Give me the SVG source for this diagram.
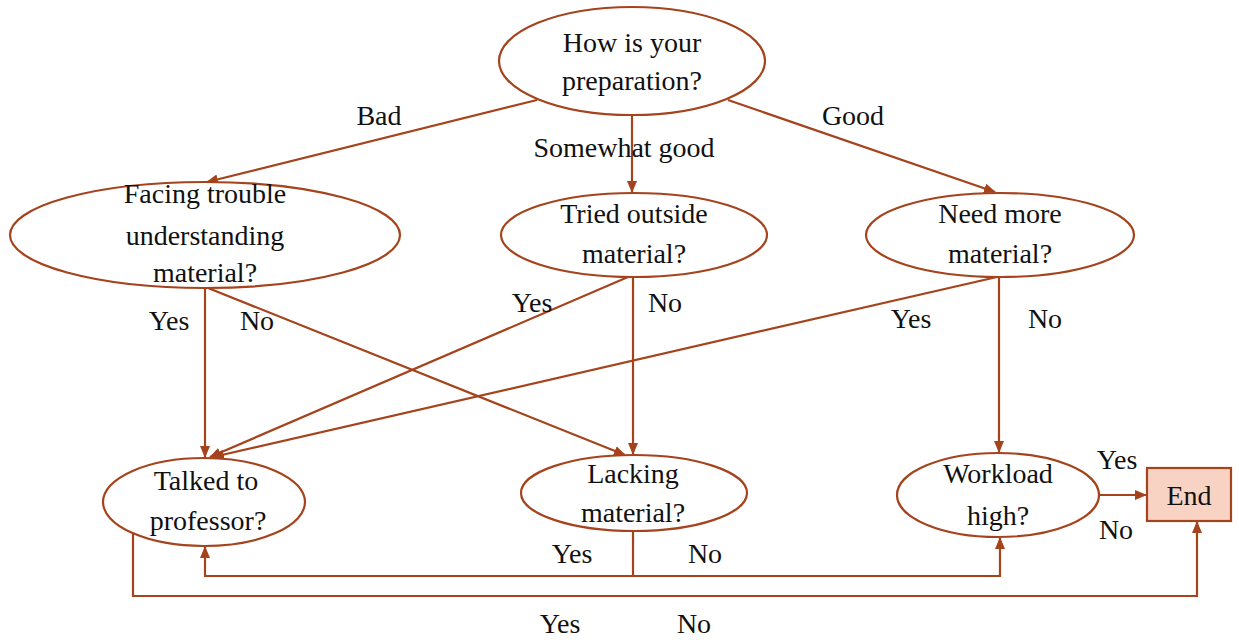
<svg xmlns="http://www.w3.org/2000/svg" width="1239" height="640" viewBox="0 0 1239 640">
  <style>
    .node { fill: #ffffff; stroke: #a5431c; stroke-width: 2.2; }
    .term { fill: #f8d3c3; stroke: #a5431c; stroke-width: 2.2; }
    .edge { fill: none; stroke: #a5431c; stroke-width: 2.2; }
    text { font-family: "Liberation Serif", "DejaVu Serif", serif; font-size: 28px; fill: #111111; text-anchor: middle; }
  </style>
  <defs>
    <marker id="arrow" markerUnits="userSpaceOnUse" markerWidth="12" markerHeight="10" refX="11" refY="5" orient="auto">
      <path d="M0,0 L12,5 L0,10 z" fill="#a5431c"/>
    </marker>
  </defs>
  <rect width="1239" height="640" fill="#ffffff"/>

  <!-- connectors -->
  <g id="connectors">
    <path class="edge" d="M537,100 L207,182" marker-end="url(#arrow)"/>
    <path class="edge" d="M632,115 L632,192" marker-end="url(#arrow)"/>
    <path class="edge" d="M728,100 L995,192" marker-end="url(#arrow)"/>
    <path class="edge" d="M205,288 L205,457" marker-end="url(#arrow)"/>
    <path class="edge" d="M208,288 L625,455" marker-end="url(#arrow)"/>
    <path class="edge" d="M628,277 L210,457" marker-end="url(#arrow)"/>
    <path class="edge" d="M633,277 L633,454" marker-end="url(#arrow)"/>
    <path class="edge" d="M997,277 L213,457" marker-end="url(#arrow)"/>
    <path class="edge" d="M999,277 L999,452" marker-end="url(#arrow)"/>
    <path class="edge" d="M633,531 L633,576"/>
    <path class="edge" d="M633,576 H205 V547" marker-end="url(#arrow)"/>
    <path class="edge" d="M633,576 H1000 V538" marker-end="url(#arrow)"/>
    <path class="edge" d="M133,533 V596 H1197 V522" marker-end="url(#arrow)"/>
    <path class="edge" d="M1100,495 H1146" marker-end="url(#arrow)"/>
  </g>

  <!-- edge labels -->
  <g id="labels">
    <text x="379" y="125">Bad</text>
    <text x="624" y="157">Somewhat good</text>
    <text x="853" y="125">Good</text>
    <text x="169" y="330">Yes</text>
    <text x="257" y="330">No</text>
    <text x="532" y="312">Yes</text>
    <text x="665" y="312">No</text>
    <text x="911" y="328">Yes</text>
    <text x="1045" y="328">No</text>
    <text x="572" y="563">Yes</text>
    <text x="705" y="563">No</text>
    <text x="560" y="633">Yes</text>
    <text x="694" y="633">No</text>
    <text x="1117" y="469">Yes</text>
    <text x="1116" y="539">No</text>
  </g>

  <g id="n-preparation">
    <ellipse class="node" cx="632" cy="61" rx="133" ry="54"/>
    <text x="632" y="52">How is your</text>
    <text x="632" y="90">preparation?</text>
  </g>
  <g id="n-trouble">
    <ellipse class="node" cx="205" cy="235" rx="195" ry="53"/>
    <text x="205" y="203">Facing trouble</text>
    <text x="205" y="245">understanding</text>
    <text x="205" y="282">material?</text>
  </g>
  <g id="n-outside">
    <ellipse class="node" cx="634" cy="235" rx="133" ry="42"/>
    <text x="634" y="223">Tried outside</text>
    <text x="634" y="263">material?</text>
  </g>
  <g id="n-needmore">
    <ellipse class="node" cx="1000" cy="235" rx="134" ry="42"/>
    <text x="1000" y="223">Need more</text>
    <text x="1000" y="263">material?</text>
  </g>
  <g id="n-professor">
    <ellipse class="node" cx="204" cy="502" rx="101" ry="44"/>
    <text x="206" y="490">Talked to</text>
    <text x="208" y="530">professor?</text>
  </g>
  <g id="n-lacking">
    <ellipse class="node" cx="634" cy="493" rx="113" ry="38"/>
    <text x="633" y="483">Lacking</text>
    <text x="633" y="522">material?</text>
  </g>
  <g id="n-workload">
    <ellipse class="node" cx="998" cy="495" rx="101" ry="42"/>
    <text x="998" y="483">Workload</text>
    <text x="998" y="525">high?</text>
  </g>
  <g id="n-end">
    <rect class="term" x="1147" y="468" width="84" height="53"/>
    <text x="1189" y="505">End</text>
  </g>
</svg>
